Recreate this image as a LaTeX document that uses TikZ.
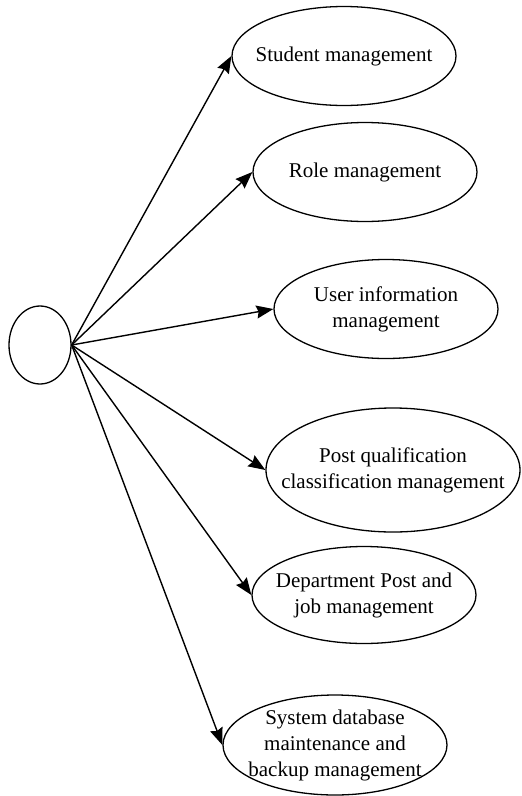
\documentclass[tikz,border=0pt]{standalone}
\usepackage{fontspec}
\setmainfont{Liberation Serif}
\usetikzlibrary{shapes.geometric,arrows.meta}
\begin{document}
\begin{tikzpicture}[x=1pt,y=-1pt,
  uc/.style={draw,line width=1.3pt,ellipse,inner sep=0pt,minimum width=224pt,minimum height=99pt},
  actor/.style={draw,line width=1.3pt,ellipse,inner sep=0pt,minimum width=62pt,minimum height=78pt},
  txt/.style={font=\fontsize{21}{26}\selectfont,align=center,inner sep=0pt},
  arr/.style={line width=1.4pt,-{Stealth[length=17pt,width=13pt,inset=2pt]}}]
\useasboundingbox (0,0) rectangle (522,796);
\node[actor] (a) at (40,345) {};
\node[uc] (e1) at (344,56) {};
\node[txt] (t1) at (e1) {Student management};
\node[uc] (e2) at (365,172) {};
\node[txt] (t2) at (e2) {Role management};
\node[uc] (e3) at (386,309) {};
\node[txt] (t3) at (e3) {User information\\management};
\node[uc,minimum width=254pt,minimum height=124pt] (e4) at (393,470) {};
\node[txt] (t4) at (e4) {Post qualification\\classification management};
\node[uc,minimum height=97pt] (e5) at (364,595) {};
\node[txt] (t5) at (e5) {Department Post and\\job management};
\node[uc,minimum height=100pt] (e6) at (335,745) {};
\node[txt] (t6) at (e6) {System database\\maintenance and\\backup management};
\foreach \e in {e1,e2,e3,e4,e5,e6}
  \draw[arr] (a.east) -- (\e.west);
\end{tikzpicture}
\end{document}
